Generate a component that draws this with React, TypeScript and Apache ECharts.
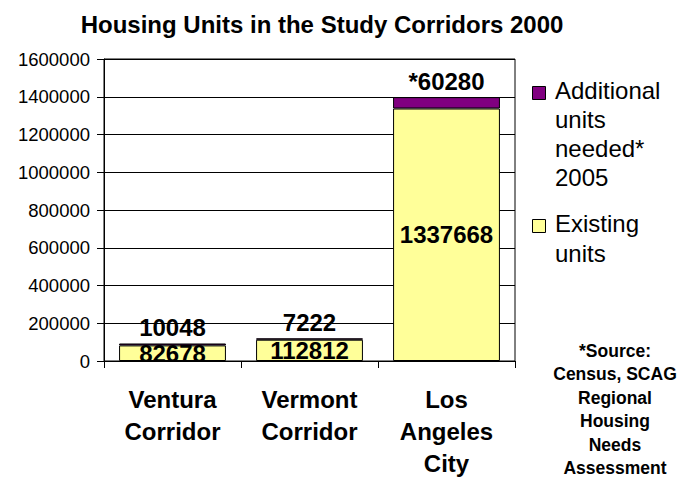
import React, { useEffect, useRef } from "react";
import * as echarts from "echarts";

const categories = ["Ventura\nCorridor", "Vermont\nCorridor", "Los\nAngeles\nCity"];
const existingUnits = [82678, 112812, 1337668];
const additionalUnits = [10048, 7222, 60280];
const additionalLabels = ["10048", "7222", "*60280"];
const yTicks = { min: 0, max: 1600000, interval: 200000 };
const titleText = "Housing Units in the Study Corridors 2000";
const legendAdditional = ["Additional", "units", "needed*", "2005"];
const legendExisting = ["Existing", "units"];
const sourceLines = ["*Source:", "Census, SCAG", "Regional", "Housing", "Needs", "Assessment"];

const FONT = "Liberation Sans, Arial, sans-serif";

export default function App() {
  const ref = useRef<HTMLDivElement>(null);
  useEffect(() => {
    document.body.style.margin = "0";
    if (!ref.current) return;
    const chart = echarts.init(ref.current, undefined, { renderer: "svg" });
    chart.setOption({
      animation: false,
      backgroundColor: "#fff",
      textStyle: { fontFamily: FONT },
      title: {
        text: titleText,
        left: 317,
        top: 7,
        textAlign: "center",
        textStyle: { fontFamily: FONT, fontSize: 24, fontWeight: "bold", color: "#000" },
      },
      grid: { left: 104, right: 163, top: 59, bottom: 118, show: true, borderColor: "#000", borderWidth: 1, backgroundColor: "#fff" },
      xAxis: {
        type: "category",
        data: categories,
        axisLine: { lineStyle: { color: "#000", width: 1 } },
        axisTick: { show: true, length: 7, lineStyle: { color: "#000" } },
        axisLabel: { fontFamily: FONT, fontSize: 24, fontWeight: "bold", color: "#000", lineHeight: 32, margin: 22 },
      },
      yAxis: {
        type: "value",
        min: yTicks.min,
        max: yTicks.max,
        interval: yTicks.interval,
        axisLine: { show: true, lineStyle: { color: "#000", width: 1 } },
        axisTick: { show: true, length: 7, lineStyle: { color: "#000" } },
        axisLabel: { fontFamily: FONT, fontSize: 18.5, color: "#000", margin: 14, formatter: (v: number) => String(v) },
        splitLine: { show: true, lineStyle: { color: "#000", width: 1 } },
      },
      series: [
        {
          name: "Existing units",
          type: "bar",
          stack: "total",
          barWidth: "78%",
          data: existingUnits,
          itemStyle: { color: "#FFFF99", borderColor: "#000", borderWidth: 1 },
          label: { show: true, position: "inside", fontFamily: FONT, fontSize: 24, fontWeight: "bold", color: "#000" },
        },
        {
          name: "Additional units needed* 2005",
          type: "bar",
          stack: "total",
          data: additionalUnits,
          itemStyle: { color: "#800080", borderColor: "#000", borderWidth: 1 },
          label: {
            show: true,
            position: "top",
            distance: 4,
            fontFamily: FONT,
            fontSize: 24,
            fontWeight: "bold",
            color: "#000",
            formatter: (p: any) => additionalLabels[p.dataIndex],
          },
        },
      ],
      graphic: [
        { type: "rect", left: 532, top: 86, shape: { width: 13, height: 13 }, style: { fill: "#800080", stroke: "#000", lineWidth: 1 } },
        {
          type: "text",
          left: 555,
          top: 76,
          style: { text: legendAdditional.join("\n"), fontFamily: FONT, fontSize: 24, lineHeight: 29, fill: "#000" },
        },
        { type: "rect", left: 532, top: 219, shape: { width: 13, height: 13 }, style: { fill: "#FFFF99", stroke: "#000", lineWidth: 1 } },
        {
          type: "text",
          left: 555,
          top: 208,
          style: { text: legendExisting.join("\n"), fontFamily: FONT, fontSize: 24, lineHeight: 30, fill: "#000" },
        },
        {
          type: "text",
          x: 615,
          y: 339,
          style: { text: sourceLines.join("\n"), fontFamily: FONT, fontSize: 17.5, fontWeight: "bold", lineHeight: 23.5, fill: "#000", align: "center" },
        },
      ],
    });
    return () => chart.dispose();
  }, []);
  return <div ref={ref} style={{ width: 678, height: 479 }} />;
}
